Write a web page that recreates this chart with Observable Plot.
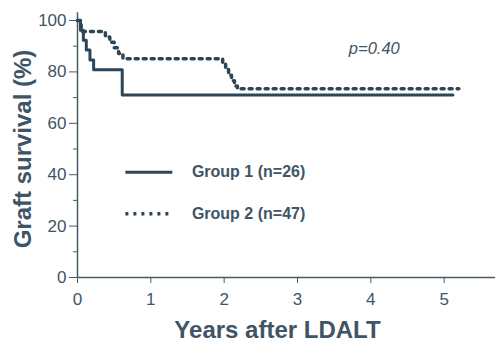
<!DOCTYPE html>
<html>
<head>
<meta charset="utf-8">
<script src="https://cdn.jsdelivr.net/npm/d3@7"></script>
<script src="https://cdn.jsdelivr.net/npm/@observablehq/plot@0.6"></script>
<style>
  html, body { margin: 0; padding: 0; background: #fff; }
  svg { display: block; }
</style>
</head>
<body>
<div id="chart"></div>
<script>
// Data
const group1Time = [0, 0.04, 0.08, 0.12, 0.17, 0.22, 0.61, 5.12];
const group1Surv = [100, 96.2, 92.3, 88.5, 84.6, 80.8, 71, 71];
const group2Time = [0, 0.05, 0.38, 0.44, 0.5, 0.56, 0.62, 1.98, 2.02, 2.06, 2.1, 2.14, 2.18, 5.2];
const group2Surv = [100, 95.7, 93.6, 91.5, 89.4, 87.2, 85.1, 83, 80.9, 78.7, 76.6, 74.5, 73.4, 73.4];
const groupLabels = ["Group 1 (n=26)", "Group 2 (n=47)"];
const xTicks = [0, 1, 2, 3, 4, 5];
const yTicks = [0, 20, 40, 60, 80, 100];
const yMinorTicks = [10, 30, 50, 70, 90];
const pLabel = "p=0.40";

const g1 = group1Time.map((t, i) => ({t, s: group1Surv[i]}));
const g2 = group2Time.map((t, i) => ({t, s: group2Surv[i]}));

const ink = "#2d4657";
const textInk = "#3f5566";
const axisInk = "#4a5b68";
const font = "'Liberation Sans', Arial, Helvetica, sans-serif";

// legend placement (data space)
const legX1 = 0.66, legX2 = 1.3, legTX = 1.56;
const legY = [41, 24.8];

const chart = Plot.plot({
  width: 495,
  height: 343,
  marginLeft: 77,
  marginRight: 0,
  marginTop: 20,
  marginBottom: 66,
  style: {fontFamily: font, color: textInk, background: "#fff", overflow: "visible"},
  x: {type: "linear", domain: [0, 5.7]},
  y: {type: "linear", domain: [0, 100]},
  marks: [
    // axis lines
    Plot.ruleY([0], {stroke: axisInk, strokeWidth: 1.5}),
    Plot.ruleX([0], {y1: 0, y2: 103, stroke: axisInk, strokeWidth: 1.5, clip: false}),
    Plot.axisX({ticks: xTicks, tickFormat: "d", tickSize: 6, tickPadding: 9, fontSize: 17, stroke: axisInk, fill: textInk,
      label: "Years after LDALT", labelAnchor: "center", labelArrow: "none", labelOffset: 60}),
    Plot.axisY({ticks: yTicks, tickSize: 8, tickPadding: 3, fontSize: 17, stroke: axisInk, fill: textInk,
      label: "Graft survival (%)", labelAnchor: "center", labelArrow: "none", labelOffset: 64}),
    Plot.axisY({ticks: yMinorTicks, tickSize: 4, text: null, label: null, stroke: axisInk}),
    // curves
    Plot.line(g1, {x: "t", y: "s", curve: "step-after", stroke: ink, strokeWidth: 3}),
    Plot.line(g2, {x: "t", y: "s", curve: "step-after", stroke: ink, strokeWidth: 3.5, strokeDasharray: "3,5"}),
    // legend
    Plot.ruleY([legY[0]], {x1: legX1, x2: legX2, stroke: ink, strokeWidth: 3}),
    Plot.ruleY([legY[1]], {x1: legX1, x2: legX2, stroke: ink, strokeWidth: 3.5, strokeDasharray: "3,5"}),
    Plot.text(groupLabels, {x: () => legTX, y: (d, i) => legY[i], text: d => d, textAnchor: "start", fontSize: 16, fill: textInk, fontWeight: "bold"}),
    Plot.text([pLabel], {x: () => 3.7, y: () => 89, text: d => d, textAnchor: "start", fontSize: 16.5, fontStyle: "italic", fill: textInk})
  ]
});

chart.querySelectorAll("[aria-label='x-axis label'] text").forEach(t => {
  t.setAttribute("font-size", "24");
  t.setAttribute("font-weight", "bold");
  t.setAttribute("fill", textInk);
  t.setAttribute("dx", "-9");
});
chart.querySelectorAll("[aria-label='y-axis label'] text").forEach(t => {
  t.setAttribute("font-size", "24");
  t.setAttribute("font-weight", "bold");
  t.setAttribute("fill", textInk);
});
document.getElementById("chart").appendChild(chart);
</script>
</body>
</html>
